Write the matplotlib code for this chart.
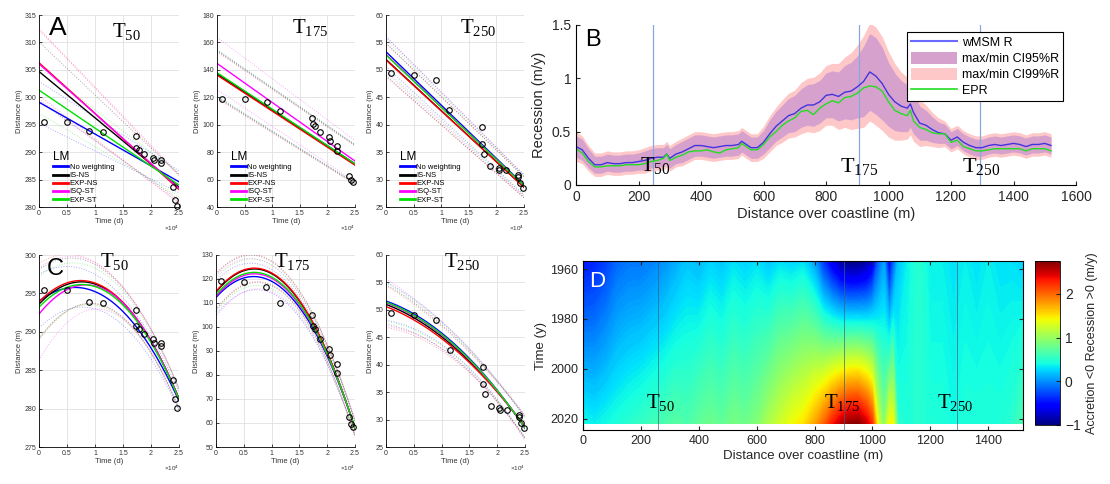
import numpy as np
import matplotlib
matplotlib.use("Agg")
import matplotlib.pyplot as plt
from matplotlib.ticker import FuncFormatter, MultipleLocator
from matplotlib.lines import Line2D
from matplotlib.patches import Patch

plt.rcParams['font.family'] = 'Liberation Sans'
plt.rcParams['mathtext.fontset'] = 'custom'
plt.rcParams['mathtext.rm'] = 'Liberation Serif'

# ---------------- observations (time in days) ----------------
t_obs = [900, 5000, 9000, 11500, 17300, 17400, 17800, 18700, 20300, 20500,
         21700, 21700, 23900, 24300, 24700]
t_obs_250 = [900, 5000, 9000, 11500, 17400, 17400, 17800, 18900, 20400, 20500,
             21700, 24000, 24000, 24300, 24800]
d_t50 = [295.5, 295.5, 293.9, 293.7, 292.9, 290.8, 290.3, 289.7, 289.0, 288.6,
         288.5, 288.1, 283.7, 281.2, 280.1]
d_t175 = [119.1, 118.6, 116.7, 110.1, 104.8, 100.4, 99.2, 94.8, 90.9, 88.2,
          84.6, 80.9, 62.4, 59.5, 58.3]
d_t250 = [49.5, 49.0, 48.1, 42.7, 39.5, 36.5, 34.7, 32.5, 32.2, 31.8,
          31.7, 30.9, 30.5, 29.3, 28.5]

methods = ['No weighting', 'IS-NS', 'EXP-NS', 'ISQ-ST', 'EXP-ST']
method_colors = ['#0000ff', '#000000', '#ff0000', '#ff00ff', '#00e000']

# ---------------- linear model fits (value at t=0 and t=25000 d) ----------------
lm_t50_start = [299.1, 304.7, 306.3, 306.1, 301.3]
lm_t50_end = [284.6, 283.6, 283.2, 283.4, 284.0]
lm_t50_hw_start = [3.8, 5.4, 6.0, 6.4, 4.2]
lm_t50_hw_end = [2.0, 2.3, 2.5, 2.6, 2.1]

lm_t175_start = [137.4, 136.9, 136.2, 144.7, 137.9]
lm_t175_end = [71.5, 71.0, 70.5, 73.5, 71.5]
lm_t175_hw_start = [17, 17, 17, 19, 17]
lm_t175_hw_end = [14, 14, 14, 15, 14]

lm_t250_start = [53.3, 51.9, 51.8, 52.8, 52.7]
lm_t250_end = [29.0, 28.6, 28.6, 28.9, 28.9]
lm_t250_hw_start = [2.7, 3.0, 3.0, 3.3, 2.8]
lm_t250_hw_end = [1.8, 1.9, 1.9, 2.0, 1.8]

# ---------------- quadratic model fits (value at t=0, 12500, 25000 d) ----------------
t_knots = [0, 12500, 25000]
qm_t50 = [[294.0, 294.2, 281.0], [293.6, 295.3, 281.3], [293.9, 295.4, 281.3],
          [292.3, 295.2, 281.2], [293.2, 295.0, 281.2]]
qm_t50_hw = [[3.5, 2.0, 1.2], [4.5, 2.2, 1.3], [5.0, 2.3, 1.3],
             [6.0, 2.5, 1.4], [4.0, 2.1, 1.2]]
qm_t175 = [[112.3, 114.8, 58.0], [114.5, 117.8, 57.5], [114.8, 118.1, 57.5],
           [112.8, 116.0, 57.8], [113.4, 116.5, 57.8]]
qm_t175_hw = [[7.0, 4.5, 3.0], [7.5, 4.5, 3.0], [7.5, 4.5, 3.0],
              [8.5, 5.0, 3.5], [7.0, 4.5, 3.0]]
qm_t250 = [[51.6, 43.6, 28.4], [51.0, 43.0, 28.6], [50.6, 42.7, 28.7],
           [51.3, 43.3, 28.5], [51.4, 43.4, 28.5]]
qm_t250_hw = [[3.5, 1.9, 1.9], [3.6, 2.0, 2.0], [3.8, 2.0, 2.0],
              [4.3, 2.2, 2.3], [3.5, 1.9, 1.9]]

# ---------------- panel B: rates along the coast ----------------
b_pos = [0, 20, 40, 60, 80, 100, 120, 140, 160, 180, 200, 220, 240, 260, 280,
         290,
         300, 320, 340, 360, 380, 400, 420, 440, 460, 480, 500, 520,
         530,
         540, 560, 580, 600, 620, 640, 660, 680, 700, 720, 740, 760, 780, 800,
         820, 840, 860, 880, 900, 920, 940, 960, 980, 1000, 1020, 1040, 1060,
         1070,
         1080, 1100, 1120, 1140, 1160, 1180, 1200, 1220, 1240, 1260, 1280, 1300,
         1320, 1340, 1360, 1380, 1400, 1420, 1440, 1460, 1480, 1500, 1520]
wmsm_r = [0.36, 0.33, 0.25, 0.19, 0.19, 0.21, 0.20, 0.20, 0.21, 0.21, 0.22, 0.23, 0.25, 0.26, 0.26,
          0.29,
          0.25, 0.29, 0.31, 0.34, 0.37, 0.37, 0.36, 0.35, 0.36, 0.37, 0.37, 0.38,
          0.41,
          0.39, 0.35, 0.35, 0.40, 0.48, 0.55, 0.60, 0.65, 0.67, 0.72, 0.75, 0.75, 0.78, 0.84,
          0.85, 0.83, 0.87, 0.88, 0.92, 0.97, 1.06, 1.02, 0.95, 0.85, 0.78, 0.74, 0.72,
          0.76,
          0.68, 0.58, 0.56, 0.52, 0.49, 0.48, 0.42, 0.45, 0.40, 0.37, 0.35, 0.35,
          0.37, 0.38, 0.37, 0.38, 0.39, 0.38, 0.36, 0.38, 0.38, 0.39, 0.37]
epr = [0.34, 0.30, 0.22, 0.17, 0.17, 0.18, 0.18, 0.18, 0.19, 0.19, 0.19, 0.20, 0.22, 0.23, 0.25,
       0.29,
       0.23, 0.26, 0.28, 0.31, 0.32, 0.32, 0.33, 0.31, 0.30, 0.33, 0.34, 0.35,
       0.39,
       0.37, 0.33, 0.33, 0.38, 0.45, 0.50, 0.56, 0.60, 0.63, 0.69, 0.70, 0.66, 0.72, 0.76,
       0.79, 0.77, 0.82, 0.83, 0.86, 0.91, 0.93, 0.92, 0.88, 0.78, 0.70, 0.67, 0.65,
       0.70,
       0.60, 0.54, 0.52, 0.49, 0.48, 0.48, 0.40, 0.42, 0.36, 0.34, 0.32, 0.32,
       0.33, 0.34, 0.34, 0.34, 0.34, 0.34, 0.32, 0.34, 0.34, 0.34, 0.32]
ci95_hw = [0.10, 0.10, 0.09, 0.08, 0.08, 0.08, 0.08, 0.08, 0.08, 0.08, 0.08, 0.09, 0.09, 0.09, 0.09,
           0.09,
           0.09, 0.09, 0.10, 0.10, 0.10, 0.10, 0.10, 0.10, 0.10, 0.10, 0.10, 0.10,
           0.10,
           0.10, 0.10, 0.10, 0.11, 0.13, 0.14, 0.15, 0.16, 0.17, 0.18, 0.19, 0.20, 0.20, 0.21,
           0.22, 0.23, 0.25, 0.27, 0.29, 0.33, 0.36, 0.36, 0.34, 0.30, 0.27, 0.24, 0.22,
           0.22,
           0.20, 0.16, 0.14, 0.12, 0.10, 0.09, 0.08, 0.08, 0.08, 0.08, 0.08, 0.08,
           0.08, 0.08, 0.08, 0.08, 0.08, 0.08, 0.08, 0.08, 0.08, 0.08, 0.08]
ci99_hw = [0.14, 0.13, 0.12, 0.11, 0.11, 0.11, 0.11, 0.11, 0.11, 0.11, 0.11, 0.12, 0.12, 0.12, 0.12,
           0.12,
           0.12, 0.12, 0.13, 0.13, 0.13, 0.13, 0.13, 0.13, 0.13, 0.13, 0.13, 0.13,
           0.13,
           0.13, 0.13, 0.13, 0.15, 0.17, 0.18, 0.20, 0.21, 0.22, 0.24, 0.25, 0.26, 0.27, 0.28,
           0.29, 0.31, 0.33, 0.36, 0.39, 0.43, 0.46, 0.46, 0.44, 0.40, 0.36, 0.32, 0.29,
           0.29,
           0.27, 0.22, 0.19, 0.16, 0.14, 0.12, 0.11, 0.11, 0.11, 0.11, 0.11, 0.11,
           0.11, 0.11, 0.11, 0.11, 0.11, 0.11, 0.11, 0.11, 0.11, 0.11, 0.11]
transect_pos_b = [245, 905, 1292]
transect_pos_d = [260, 903, 1292]

# ---------------- panel D: rate through time ----------------
d_pos = [0, 40, 80, 120, 160, 200, 240, 280, 320, 360, 400, 440, 480, 520, 560,
         600, 640, 680, 720, 760, 800, 830, 860, 890, 920, 950, 980, 1000, 1020,
         1040, 1058, 1072, 1090, 1120, 1160, 1200, 1240, 1280, 1320, 1360, 1400,
         1440, 1480, 1520]
d_years = [1956.8, 2022.0]
rate_first = [-0.45, -0.40, -0.30, -0.15, -0.10, -0.10, -0.05, 0.00, 0.10, 0.20, 0.15, 0.25, 0.20, 0.30, 0.25,
              0.30, 0.20, 0.30, 0.25, 0.30, 0.05, -0.35, -0.65, -0.90, -1.00, -1.00, -0.90, -0.70, -0.20,
              0.05, -0.60, -0.20, 0.20, 0.35, 0.50, 0.35, 0.35, 0.30, 0.35, 0.30, 0.35,
              0.30, 0.30, 0.25]
rate_last = [0.40, 0.35, 0.40, 0.45, 0.50, 0.55, 0.60, 0.65, 0.70, 0.65, 0.75, 0.80, 0.75, 0.85, 0.80,
             0.90, 1.10, 1.25, 1.40, 1.50, 1.75, 2.00, 2.30, 2.55, 2.70, 2.72, 2.50, 2.20, 1.30,
             0.90, 1.45, 1.40, 0.50, 0.45, 0.50, 0.45, 0.45, 0.40, 0.45, 0.45, 0.45,
             0.45, 0.50, 0.65]

W, H = 1110, 484
fig = plt.figure(figsize=(W / 100, H / 100), dpi=100)


def box(l, t, r, b):
    return [l / W, 1 - b / H, (r - l) / W, (b - t) / H]


def tlabel(ax, x, y, sub, size=15, transform=None):
    ax.text(x, y, r'T$_{\mathrm{%s}}$' % sub, fontsize=size, family='Liberation Serif',
            transform=transform if transform is not None else ax.transAxes,
            va='baseline', ha='left', zorder=10)


def small_axes(rect, ylim, ystep):
    ax = fig.add_axes(rect)
    ax.set_xlim(0, 2.5)
    ax.set_ylim(*ylim)
    ax.xaxis.set_major_locator(MultipleLocator(0.5))
    ax.yaxis.set_major_locator(MultipleLocator(ystep))
    ax.xaxis.set_major_formatter(FuncFormatter(lambda v, p: f'{v:g}'))
    ax.grid(True, color='#e0e0e0', lw=0.6)
    ax.set_axisbelow(True)
    for s in ['top', 'right']:
        ax.spines[s].set_visible(False)
    for s in ['left', 'bottom']:
        ax.spines[s].set_linewidth(0.6)
    ax.tick_params(direction='in', length=2, width=0.5, labelsize=5, pad=2,
                   labelcolor='#333333')
    ax.set_xlabel('Time (d)', fontsize=5.5, labelpad=1, color='#333333')
    ax.set_ylabel('Distance (m)', fontsize=5.5, labelpad=1, color='#333333')
    ax.text(1.0, -0.085, r'×$\mathregular{10^4}$', transform=ax.transAxes, fontsize=4.5,
            ha='right', va='top', color='#333333')
    return ax


def draw_obs(ax, t, d):
    ax.plot(np.array(t) / 1e4, d, 'o', mfc='none', mec='k', ms=4, mew=0.8,
            clip_on=False, zorder=6)


def draw_linear(ax, start, end, hw_start, hw_end):
    tt = [0, 2.5]
    for i, c in enumerate(method_colors):
        ax.plot(tt, [start[i] + hw_start[i], end[i] + hw_end[i]], ':', color=c, lw=0.7, alpha=0.35)
        ax.plot(tt, [start[i] - hw_start[i], end[i] - hw_end[i]], ':', color=c, lw=0.7, alpha=0.35)
    for i, c in enumerate(method_colors):
        ax.plot(tt, [start[i], end[i]], '-', color=c, lw=1.0)


def draw_quad(ax, vals, hws):
    tk = np.array(t_knots) / 1e4
    tt = np.linspace(0, 2.5, 120)
    for i, c in enumerate(method_colors):
        v = np.array(vals[i])
        h = np.array(hws[i])
        for band in (v + h, v - h):
            ax.plot(tt, np.polyval(np.polyfit(tk, band, 2), tt), ':', color=c, lw=0.7, alpha=0.35)
    for i, c in enumerate(method_colors):
        ax.plot(tt, np.polyval(np.polyfit(tk, vals[i], 2), tt), '-', color=c, lw=1.0)


def lm_legend(ax):
    handles = [Line2D([], [], color=c, lw=2) for c in method_colors]
    leg = ax.legend(handles, methods, title='LM', loc='lower left', bbox_to_anchor=(0.06, -0.01),
                    frameon=False, fontsize=5.5, title_fontsize=8.5, handlelength=2.0,
                    handletextpad=0.2, labelspacing=0.1, borderpad=0.2, alignment='left')
    leg.set_zorder(8)


# ---------- row A ----------
ax = small_axes(box(39, 15, 179, 207), (280, 315), 5)
draw_linear(ax, lm_t50_start, lm_t50_end, lm_t50_hw_start, lm_t50_hw_end)
draw_obs(ax, t_obs, d_t50)
lm_legend(ax)
ax.text(0.07, 0.995, 'A', transform=ax.transAxes, fontsize=19, va='top')
tlabel(ax, 0.52, 0.885, '50')

ax = small_axes(box(217, 15, 355, 207), (40, 180), 20)
draw_linear(ax, lm_t175_start, lm_t175_end, lm_t175_hw_start, lm_t175_hw_end)
draw_obs(ax, t_obs, d_t175)
lm_legend(ax)
tlabel(ax, 0.54, 0.905, '175')

ax = small_axes(box(386, 15, 524, 207), (25, 60), 5)
draw_linear(ax, lm_t250_start, lm_t250_end, lm_t250_hw_start, lm_t250_hw_end)
draw_obs(ax, t_obs_250, d_t250)
lm_legend(ax)
tlabel(ax, 0.535, 0.905, '250')

# ---------- row C ----------
ax = small_axes(box(39, 255, 179, 447), (275, 300), 5)
draw_quad(ax, qm_t50, qm_t50_hw)
draw_obs(ax, t_obs, d_t50)
ax.text(0.055, 0.985, 'C', transform=ax.transAxes, fontsize=17, va='top')
tlabel(ax, 0.435, 0.935, '50')

ax = small_axes(box(216, 255, 355, 447), (50, 130), 10)
draw_quad(ax, qm_t175, qm_t175_hw)
draw_obs(ax, t_obs, d_t175)
tlabel(ax, 0.42, 0.935, '175')

ax = small_axes(box(386, 255, 525, 447), (25, 60), 5)
draw_quad(ax, qm_t250, qm_t250_hw)
draw_obs(ax, t_obs_250, d_t250)
tlabel(ax, 0.42, 0.935, '250')

# ---------- panel B ----------
axb = fig.add_axes(box(576, 25, 1076, 185))
x = np.array(b_pos)
r = np.array(wmsm_r)
axb.fill_between(x, r - np.array(ci99_hw), r + np.array(ci99_hw), color='#ffc8c8', lw=0)
axb.fill_between(x, r - np.array(ci95_hw), r + np.array(ci95_hw), color='#d6a2cd', lw=0)
for p in transect_pos_b:
    axb.axvline(p, color='#8aa6e0', lw=0.9)
axb.plot(x, r, color='#4433dd', lw=1.0)
axb.plot(x, epr, color='#22dd22', lw=1.0)
axb.set_xlim(0, 1600)
axb.set_ylim(0, 1.5)
axb.xaxis.set_major_locator(MultipleLocator(200))
axb.yaxis.set_major_locator(MultipleLocator(0.5))
axb.yaxis.set_major_formatter(FuncFormatter(lambda v, p: f'{v:g}'))
for s in ['top', 'right']:
    axb.spines[s].set_visible(False)
axb.tick_params(direction='in', length=3, labelsize=10, colors='#262626')
axb.set_xlabel('Distance over coastline (m)', fontsize=10.5, color='#262626', labelpad=2)
axb.set_ylabel('Recession (m/y)', fontsize=10.5, color='#262626', labelpad=4)
axb.text(0.018, 0.975, 'B', transform=axb.transAxes, fontsize=17, va='top')
for p, yb, sub in zip([205, 845, 1235], [0.13, 0.122, 0.122], ['50', '175', '250']):
    tlabel(axb, p, yb, sub, size=16, transform=axb.transData)
hb = [Line2D([], [], color='#6a6aff', lw=1.5),
      Patch(facecolor='#d6a2cd', edgecolor='none'),
      Patch(facecolor='#ffc8c8', edgecolor='none'),
      Line2D([], [], color='#22dd22', lw=1.2)]
legb = axb.legend(hb, ['wMSM R', 'max/min CI95%R', 'max/min CI99%R', 'EPR'],
                  loc='upper right', bbox_to_anchor=(0.974, 0.956), fontsize=9,
                  fancybox=False, edgecolor='black', framealpha=1, borderpad=0.3,
                  handlelength=3.7, handleheight=1.1, labelspacing=0.22,
                  handletextpad=0.4, borderaxespad=0)
legb.get_frame().set_linewidth(0.8)

# ---------- panel D ----------
axd = fig.add_axes(box(583, 261, 1023, 430))
X, Y = np.meshgrid(d_pos, d_years)
C = np.vstack([rate_first, rate_last])
mesh = axd.contourf(X, Y, C, levels=np.linspace(-1, 2.75, 151), cmap='jet',
                    vmin=-1, vmax=2.75, extend='both')
for p in transect_pos_d:
    axd.axvline(p, color='#3f5f7f', lw=0.6, alpha=0.8)
axd.set_xlim(0, 1520)
axd.set_ylim(2024.4, 1956.8)
axd.set_yticks([1960, 1980, 2000, 2020])
axd.xaxis.set_major_locator(MultipleLocator(200))
axd.tick_params(direction='in', length=3, labelsize=9, top=True, right=True,
                colors='#262626')
axd.set_xlabel('Distance over coastline (m)', fontsize=9.5, color='#262626', labelpad=2)
axd.set_ylabel('Time (y)', fontsize=9.5, color='#262626', labelpad=2)
axd.text(0.013, 0.94, 'D', transform=axd.transAxes, fontsize=16, va='top', color='white')
for p, sub in zip([218, 834, 1224], ['50', '175', '250']):
    tlabel(axd, p, 2015.6, sub, size=15, transform=axd.transData)

cax = fig.add_axes(box(1035, 261, 1060, 425))
sm = plt.cm.ScalarMappable(cmap='jet', norm=plt.Normalize(-1, 2.75))
cb = fig.colorbar(sm, cax=cax, ticks=[-1, 0, 1, 2])
cb.outline.set_linewidth(0.6)
cax.tick_params(labelsize=10, direction='in', length=3, colors='#262626')
cb.set_label('Accretion <0 Recession >0 (m/y)', fontsize=9, color='#262626', labelpad=4)

fig.savefig('out.png', dpi=100)
